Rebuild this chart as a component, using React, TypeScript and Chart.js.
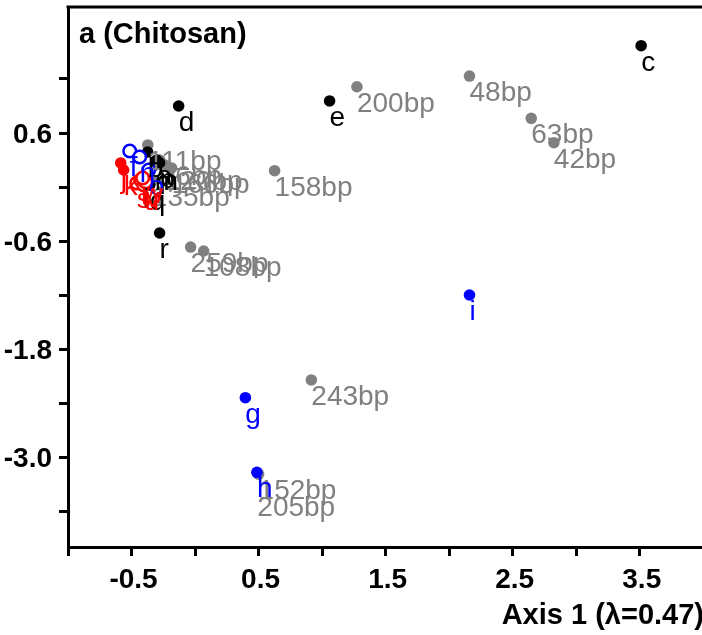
import React, { useEffect, useRef } from 'react';
import { Chart, registerables } from 'chart.js';

Chart.register(...registerables);

const FONT = '"Liberation Sans", Arial, Helvetica, sans-serif';

// ---- Data (Axis 1, Axis 2 scores) ----
const grayLabels = ['200bp', '48bp', '63bp', '42bp', '158bp', '243bp', '152bp', '205bp', '259bp', '108bp', '111bp', '96bp', '120bp', '166bp', '135bp'];
const grayX = [1.274, 2.16, 2.646, 2.824, 0.626, 0.915, 0.5, 0.49, -0.035, 0.068, -0.372, -0.278, -0.239, -0.184, -0.34];
const grayY = [1.114, 1.233, 0.763, 0.492, 0.181, -2.144, -3.19, -3.175, -0.667, -0.711, 0.467, 0.3, 0.244, 0.211, 0.067];

const blackLabels = ['a', 'b', 'c', 'd', 'e', 'l', 'm', 'p', 'q', 'r'];
const blackX = [-0.302, -0.373, 3.511, -0.129, 1.059, -0.412, -0.318, -0.279, -0.357, -0.279];
const blackY = [0.3, 0.389, 1.57, 0.9, 0.956, 0.044, 0.244, 0.267, 0.022, -0.511];

const blueLabels = ['g', 'h', 'i'];
const blueX = [0.396, 0.487, 2.16];
const blueY = [-2.341, -3.17, -1.2];

const blueOpenLabels = ['f', 'n', 'o'];
const blueOpenX = [-0.514, -0.436, -0.365];
const blueOpenY = [0.4, 0.333, 0.189];

const redLabels = ['j', 'k'];
const redX = [-0.585, -0.562];
const redY = [0.267, 0.189];

const redOpenLabels = ['s', 't', 'u', 'v', 'w'];
const redOpenX = [-0.459, -0.428, -0.404, -0.389, -0.412];
const redOpenY = [0.044, 0.078, 0.022, 0.056, 0.1];

const xTickValues = [-1, -0.5, 0, 0.5, 1, 1.5, 2, 2.5, 3, 3.5];
const xLabelValues = [-0.5, 0.5, 1.5, 2.5, 3.5];
const yTickValues = [-3.6, -3.0, -2.4, -1.8, -1.2, -0.6, 0, 0.6, 1.2];
const yLabelValues = [0.6, -0.6, -1.8, -3.0];

const panelTitle = 'a (Chitosan)';
const xAxisTitle = 'Axis 1 (\u03bb=0.47)';

// label placement nudges (pixels) used by the plotting program to avoid exact overlaps
const labelNudge: Record<string, number> = { '205bp': 18 };

const pts = (xs: number[], ys: number[]) => xs.map((x, i) => ({ x, y: ys[i] }));

const makeSet = (xs: number[], ys: number[], labels: string[], color: string, open: boolean, order: number) => ({
  data: pts(xs, ys),
  order,
  pointLabels: labels,
  labelColor: color,
  pointRadius: open ? 6.3 : 5.8,
  pointBackgroundColor: open ? '#ffffff' : color,
  pointBorderColor: color,
  pointBorderWidth: open ? 2.5 : 0,
  showLine: false,
});

const textPlugin = {
  id: 'textPlugin',
  afterDatasetsDraw(chart: any) {
    const ctx = chart.ctx;
    ctx.save();
    ctx.font = `28px ${FONT}`;
    ctx.textAlign = 'left';
    ctx.textBaseline = 'alphabetic';
    chart.data.datasets.forEach((ds: any, i: number) => {
      const meta = chart.getDatasetMeta(i);
      ctx.fillStyle = ds.labelColor;
      meta.data.forEach((el: any, j: number) => {
        const lab = ds.pointLabels[j];
        ctx.fillText(lab, el.x, el.y + 25 + (labelNudge[lab] || 0));
      });
    });
    ctx.restore();
  },
  afterDraw(chart: any) {
    const ctx = chart.ctx;
    const { left, right, top } = chart.chartArea;
    const xs = chart.scales.x;
    const ys = chart.scales.y;
    ctx.save();
    // top frame line
    ctx.strokeStyle = '#000';
    ctx.lineWidth = 3;
    ctx.beginPath();
    ctx.moveTo(left - 1.5, top);
    ctx.lineTo(right + 2, top);
    ctx.stroke();

    ctx.fillStyle = '#000';
    ctx.font = `bold 28px ${FONT}`;
    // y tick labels
    ctx.textAlign = 'right';
    ctx.textBaseline = 'alphabetic';
    yLabelValues.forEach((v) => {
      ctx.fillText(v.toFixed(1), 52, ys.getPixelForValue(v) + 10);
    });
    // x tick labels
    ctx.textAlign = 'center';
    xLabelValues.forEach((v) => {
      ctx.fillText(v.toFixed(1), xs.getPixelForValue(v) + 2, 588);
    });
    // axis title
    ctx.textAlign = 'right';
    ctx.font = `bold 29px ${FONT}`;
    ctx.fillText(xAxisTitle, 704, 624);
    // panel title
    ctx.textAlign = 'left';
    ctx.font = `bold 29px ${FONT}`;
    ctx.fillText(panelTitle, 79, 43);
    ctx.restore();
  },
};

export default function App() {
  const ref = useRef<HTMLCanvasElement>(null);
  useEffect(() => {
    if (!ref.current) return;
    const axisCommon = {
      type: 'linear' as const,
      ticks: { display: false },
      grid: { drawOnChartArea: false, drawTicks: true, tickLength: 9, lineWidth: 3, color: '#000' },
      border: { display: true, color: '#000', width: 3 },
    };
    const chart = new Chart(ref.current, {
      type: 'scatter',
      data: {
        datasets: [
          makeSet(grayX, grayY, grayLabels, '#808080', false, 5),
          makeSet(blackX, blackY, blackLabels, '#000000', false, 4),
          makeSet(blueX, blueY, blueLabels, '#0000ff', false, 3),
          makeSet(blueOpenX, blueOpenY, blueOpenLabels, '#0000ff', true, 2),
          makeSet(redX, redY, redLabels, '#ff0000', false, 1),
          makeSet(redOpenX, redOpenY, redOpenLabels, '#ff0000', true, 0),
        ] as any,
      },
      options: {
        responsive: false,
        animation: false,
        layout: { autoPadding: false, padding: { top: 7, right: 0, left: 0, bottom: 0 } },
        plugins: { legend: { display: false }, tooltip: { enabled: false } },
        scales: {
          x: {
            ...axisCommon,
            min: -1,
            max: 3.99,
            afterBuildTicks: (s: any) => { s.ticks = xTickValues.map((v) => ({ value: v })); },
            afterFit: (s: any) => { s.height = 88; },
          },
          y: {
            ...axisCommon,
            min: -4,
            max: 2,
            afterBuildTicks: (s: any) => { s.ticks = yTickValues.map((v) => ({ value: v })); },
            afterFit: (s: any) => { s.width = 68; },
          },
        },
      } as any,
      plugins: [textPlugin],
    });
    return () => chart.destroy();
  }, []);
  return (
    <div style={{ position: 'absolute', left: 0, top: 0, width: 702, height: 635, overflow: 'hidden', background: '#fff' }}>
      <canvas ref={ref} width={702} height={635} style={{ display: 'block', width: 702, height: 635 }} />
    </div>
  );
}
